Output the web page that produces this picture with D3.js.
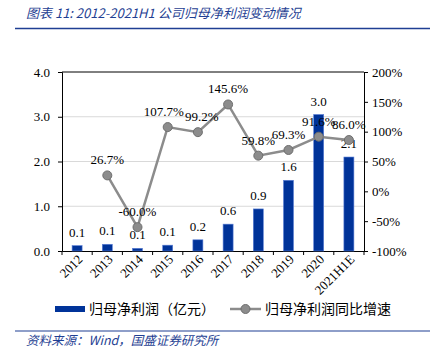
<!DOCTYPE html>
<html>
<head>
<meta charset="utf-8">
<script src="https://cdn.jsdelivr.net/npm/d3@7"></script>
<style>
body { margin: 0; background: #fff; }
</style>
</head>
<body>
<div id="chart"></div>
<script>
const years = ["2012", "2013", "2014", "2015", "2016", "2017", "2018", "2019", "2020", "2021H1E"];
const profit = [0.12, 0.15, 0.06, 0.13, 0.25, 0.60, 0.94, 1.58, 3.05, 2.10];
const profitLabels = ["0.1", "0.1", "0.1", "0.1", "0.2", "0.6", "0.9", "1.6", "3.0", "2.1"];
const growth = [null, 26.7, -60.0, 107.7, 99.2, 145.6, 59.8, 69.3, 91.6, 86.0];
const leftTicks = [0, 1, 2, 3, 4];
const rightTicks = [-100, -50, 0, 50, 100, 150, 200];

const W = 434, H = 353;
const serif = "'Liberation Serif', 'Times New Roman', serif";
const cjk = "'Noto Sans CJK SC', sans-serif";
const blue = "#003399";

const svg = d3.select("#chart").append("svg")
    .attr("width", W)
    .attr("height", H);

// title + rules
svg.append("text")
    .attr("x", 26).attr("y", 18)
    .style("font-family", cjk)
    .style("font-style", "italic")
    .style("font-size", "13px")
    .style("fill", "#1f3f93")
    .text("图表 11:  2012-2021H1 公司归母净利润变动情况");
svg.append("line").attr("x1", 15).attr("x2", 430).attr("y1", 28.5).attr("y2", 28.5)
    .attr("stroke", "#1f3f93").attr("stroke-width", 1.5);
svg.append("line").attr("x1", 15).attr("x2", 430).attr("y1", 331).attr("y2", 331)
    .attr("stroke", "#1f3f93").attr("stroke-width", 1.2);
svg.append("text")
    .attr("x", 26).attr("y", 345)
    .style("font-family", cjk)
    .style("font-style", "italic")
    .style("font-size", "12.5px")
    .style("fill", "#1f3f93")
    .text("资料来源：Wind，国盛证券研究所");

const pLeft = 62, pRight = 364, pTop = 72, pBottom = 251;

const x = d3.scaleBand().domain(years).range([pLeft, pRight]);
const y = d3.scaleLinear().domain([0, 4]).range([pBottom, pTop]);
const y2 = d3.scaleLinear().domain([-100, 200]).range([pBottom, pTop]);

// gridlines
svg.append("g")
    .selectAll("line")
    .data(leftTicks.filter(d => d > 0 && d < 4))
    .join("line")
    .attr("x1", pLeft).attr("x2", pRight)
    .attr("y1", d => y(d)).attr("y2", d => y(d))
    .attr("stroke", "#d9d9d9").attr("stroke-width", 1);

// top frame
svg.append("line").attr("x1", pLeft).attr("x2", pRight).attr("y1", pTop).attr("y2", pTop)
    .attr("stroke", "#000").attr("stroke-width", 1);

// axes
const axL = svg.append("g")
    .attr("transform", `translate(${pLeft},0)`)
    .call(d3.axisLeft(y).tickValues(leftTicks).tickFormat(d3.format(".1f")).tickSize(4).tickPadding(8));
const axR = svg.append("g")
    .attr("transform", `translate(${pRight},0)`)
    .call(d3.axisRight(y2).tickValues(rightTicks).tickFormat(d => d + "%").tickSize(4).tickPadding(4));
const axB = svg.append("g")
    .attr("transform", `translate(0,${pBottom})`)
    .call(d3.axisBottom(x).tickSize(0).tickFormat(d => d));

[axL, axR, axB].forEach(a => {
    a.select(".domain").attr("stroke", "#000");
    a.selectAll(".tick line").attr("stroke", "#000");
    a.selectAll("text")
        .style("font-family", serif)
        .style("font-size", "13px")
        .attr("fill", "#000");
});

axB.selectAll(".tick text")
    .style("text-anchor", "end")
    .attr("dx", "-2px")
    .attr("dy", "8px")
    .attr("transform", "rotate(-45)");

// category boundary ticks on x axis
svg.append("g")
    .selectAll("line")
    .data(years.concat(["_end"]))
    .join("line")
    .attr("x1", (d, i) => pLeft + i * x.bandwidth())
    .attr("x2", (d, i) => pLeft + i * x.bandwidth())
    .attr("y1", pBottom).attr("y2", pBottom + 4)
    .attr("stroke", "#000");

// bars
const bw = 10;
svg.append("g")
    .selectAll("rect")
    .data(years)
    .join("rect")
    .attr("x", (d, i) => x(d) + x.bandwidth() / 2 - bw / 2)
    .attr("y", (d, i) => y(profit[i]))
    .attr("width", bw)
    .attr("height", (d, i) => pBottom - y(profit[i]))
    .attr("fill", blue)
    .attr("stroke", "#5b7fd6")
    .attr("stroke-width", 0.6);

svg.append("g")
    .selectAll("text")
    .data(years)
    .join("text")
    .attr("x", d => x(d) + x.bandwidth() / 2)
    .attr("y", (d, i) => y(profit[i]) - 9)
    .attr("text-anchor", "middle")
    .style("font-family", serif)
    .style("font-size", "13px")
    .text((d, i) => profitLabels[i]);

// growth line
const pts = years.map((d, i) => ({ year: d, v: growth[i] })).filter(d => d.v !== null);
const line = d3.line()
    .x(d => x(d.year) + x.bandwidth() / 2)
    .y(d => y2(d.v));

svg.append("path")
    .datum(pts)
    .attr("d", line)
    .attr("fill", "none")
    .attr("stroke", "#8c8c8c")
    .attr("stroke-width", 2.5);

svg.append("g")
    .selectAll("circle")
    .data(pts)
    .join("circle")
    .attr("cx", d => x(d.year) + x.bandwidth() / 2)
    .attr("cy", d => y2(d.v))
    .attr("r", 4.5)
    .attr("fill", "#8c8c8c")
    .attr("stroke", "#6e6e6e")
    .attr("stroke-width", 1);

// nudge the two crowded labels apart a little
const nudge = { "2015": -4, "2016": 4 };
svg.append("g")
    .selectAll("text")
    .data(pts)
    .join("text")
    .attr("x", d => x(d.year) + x.bandwidth() / 2 + (nudge[d.year] || 0))
    .attr("y", d => y2(d.v) - 11)
    .attr("text-anchor", "middle")
    .style("font-family", serif)
    .style("font-size", "13px")
    .text(d => d.v.toFixed(1) + "%");

// legend
const lg = svg.append("g").attr("transform", "translate(0,309)");
lg.append("rect").attr("x", 55).attr("y", -3).attr("width", 30).attr("height", 6).attr("fill", blue);
lg.append("text").attr("x", 89).attr("y", 5)
    .style("font-family", cjk).style("font-size", "14px")
    .text("归母净利润（亿元）");
lg.append("line").attr("x1", 230).attr("x2", 261).attr("y1", 0).attr("y2", 0)
    .attr("stroke", "#8c8c8c").attr("stroke-width", 2.5);
lg.append("circle").attr("cx", 245.5).attr("cy", 0).attr("r", 4.5)
    .attr("fill", "#8c8c8c").attr("stroke", "#6e6e6e");
lg.append("text").attr("x", 265).attr("y", 5)
    .style("font-family", cjk).style("font-size", "14px")
    .text("归母净利润同比增速");
</script>
</body>
</html>
